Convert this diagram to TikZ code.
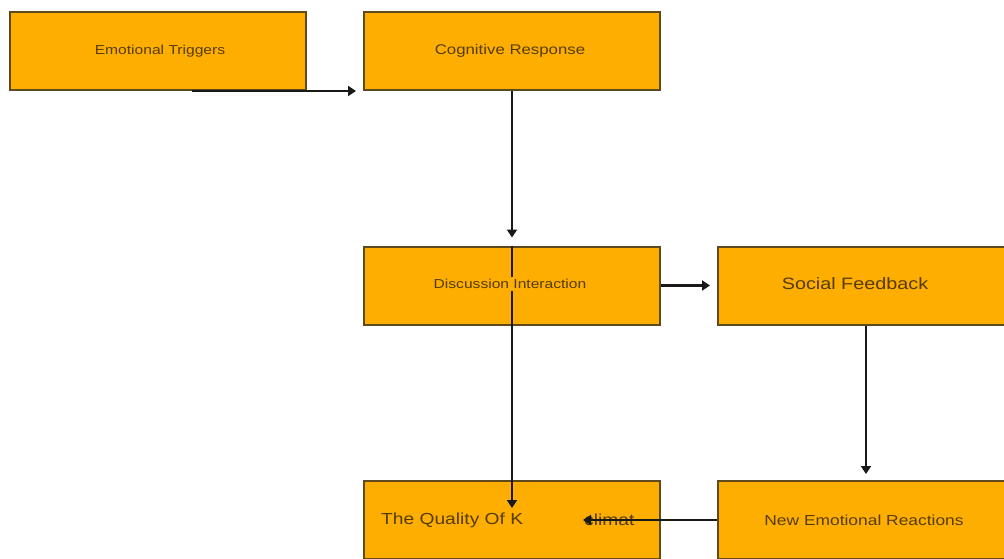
\documentclass[tikz,border=0pt]{standalone}
\usepackage{fontspec}
\setmainfont{Liberation Sans}
\usetikzlibrary{arrows.meta}
\definecolor{boxfill}{RGB}{254,174,0}
\definecolor{boxline}{RGB}{95,74,30}
\definecolor{boxtext}{RGB}{85,60,0}
\definecolor{conn}{RGB}{25,25,25}
\newcommand{\hstretch}[1]{\scalebox{1.2}[1]{#1}}
\begin{document}
\begin{tikzpicture}[x=1pt,y=-1pt,
  flowbox/.style={draw=boxline, line width=2pt, fill=boxfill, minimum width=296pt, minimum height=78pt, inner sep=0pt},
  lbl/.style={text=boxtext, inner sep=0pt},
  arr/.style={draw=conn, line width=2.6pt, -{Triangle[length=8pt,width=10pt]}}]
\useasboundingbox (0,0) rectangle (1004,559);
\clip (0,0) rectangle (1004,559);
\fill[white] (0,0) rectangle (1004,559);
% boxes
\node[flowbox] (ET) at (158,51) {};
\node[flowbox] (CR) at (512,51) {};
\node[flowbox] (DI) at (512,285.5) {};
\node[flowbox] (SF) at (866,285.5) {};
\node[flowbox] (QK) at (512,520) {};
\node[flowbox] (NER) at (866,520) {};
% labels
\node[lbl, font=\fontsize{13}{15}\selectfont] (tET) at (160,51) {\hstretch{Emotional Triggers}};
\node[lbl, font=\fontsize{14}{16}\selectfont] (tCR) at (510,51) {\hstretch{Cognitive Response}};
\node[lbl, font=\fontsize{16.5}{18}\selectfont] (tSF) at (855,284) {\hstretch{Social Feedback}};
\node[lbl, font=\fontsize{14.5}{17}\selectfont] (tNER) at (864,520) {\hstretch{New Emotional Reactions}};
\node[lbl, font=\fontsize{16}{18}\selectfont, anchor=west] (tQK) at (381,520) {\hstretch{The Quality Of K}};
\node[lbl, font=\fontsize{16}{18}\selectfont, anchor=west] (tCL) at (584,520) {\hstretch{climat}};
% connectors
\coordinate (clEnd) at (583,520);
\draw[arr] ([xshift=34pt]ET.south) -- ([xshift=-7pt]CR.south west);
\draw[arr] (CR.south) -- ([yshift=8pt]DI.north);
\draw[arr] (DI.north) -- ([yshift=12pt]QK.center);
\draw[arr] (DI.east) -- ([xshift=-7pt]SF.west);
\draw[arr] (SF.south) -- ([yshift=6pt]NER.north);
\draw[arr] (NER.west) -- (clEnd);
% label masking the vertical line
\node[lbl, fill=boxfill, inner sep=2pt, font=\fontsize{13}{15}\selectfont] (tDI) at (510,284) {\hstretch{Discussion Interaction}};
\end{tikzpicture}
\end{document}
